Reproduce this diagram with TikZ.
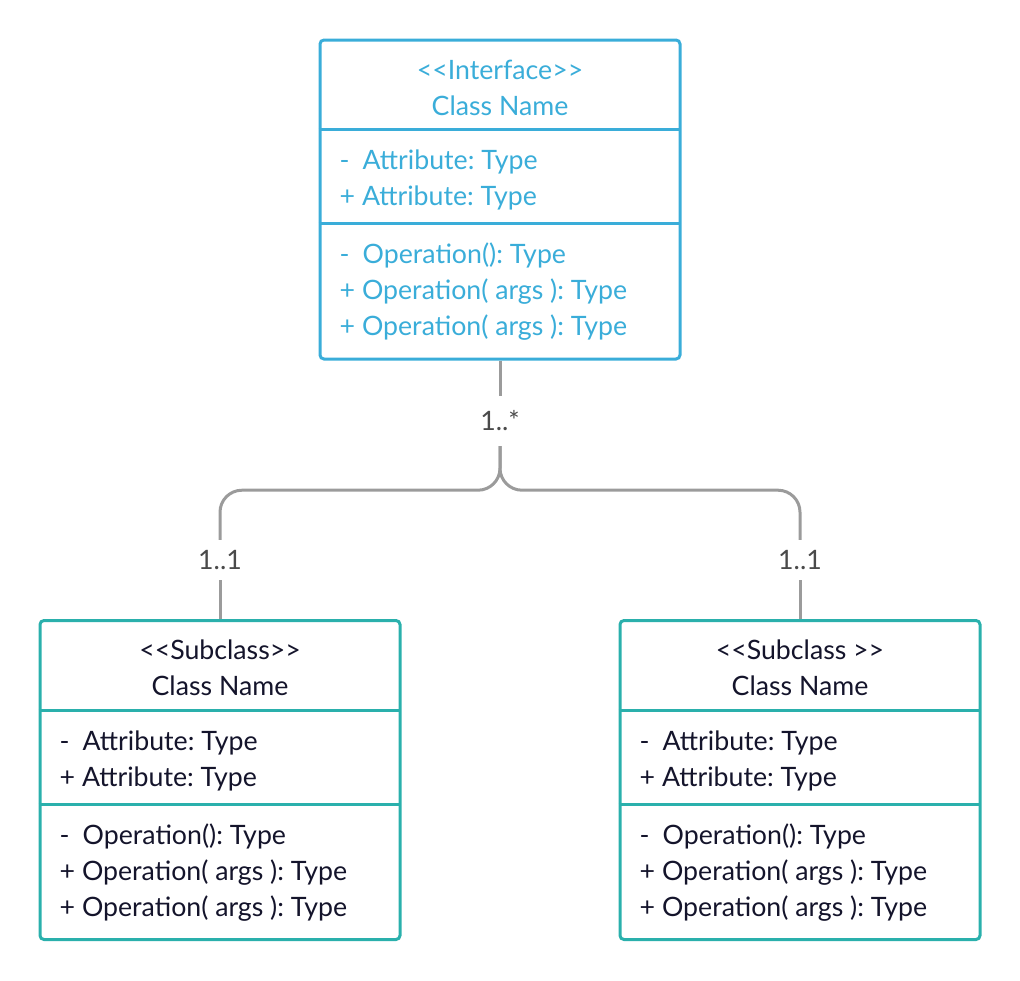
\documentclass[tikz,border=0pt]{standalone}
\usepackage{fontspec}
\setmainfont{Lato}[Ligatures=TeXOff]
\usetikzlibrary{positioning}
\definecolor{ifblue}{HTML}{3AADD9}
\definecolor{subteal}{HTML}{2AB0AC}
\definecolor{linkgray}{HTML}{9B9B9B}
\definecolor{ink}{HTML}{14142B}
\definecolor{multgray}{HTML}{4A4A4A}
\tikzset{
  classbox/.style={draw, line width=3pt, rounded corners=4pt, minimum width=360pt, minimum height=319pt, inner sep=0pt},
  header/.style={align=center, inner sep=0pt, font=\fontsize{26.7}{36}\selectfont},
  members/.style={align=left, anchor=west, inner sep=0pt, font=\fontsize{26.7}{36}\selectfont},
  mult/.style={text=multgray, font=\fontsize{26.7}{36}\selectfont, minimum height=50pt, inner sep=0pt},
  link/.style={draw=linkgray, line width=3pt, rounded corners=22pt},
}
\newcommand{\priv}{\makebox[23pt][l]{-}}
\frenchspacing
\begin{document}
\begin{tikzpicture}[x=1pt,y=-1pt]
\useasboundingbox (0,0) rectangle (1020,980);
% class boxes
\foreach \name/\cx/\cy/\col/\txt/\stereo in {iface/500/199.5/ifblue/ifblue/{<<Interface>>},
    subl/220/780/subteal/ink/{<<Subclass>>}, subr/800/780/subteal/ink/{<<Subclass >>}}{
	\node[classbox, draw=\col] (\name) at (\cx,\cy) {};
	\draw[line width=3pt, \col] (\name.north west) ++(0,91) -- ++(360,0);
	\draw[line width=3pt, \col] (\name.north west) ++(0,185) -- ++(360,0);
	\node[header, text=\txt] at ([yshift=-49pt]\name.north) {\stereo\\Class Name};
	\node[members, text=\txt] at ([xshift=21pt, yshift=-141.5pt]\name.north west)
		{\priv Attribute: Type\\+ Attribute: Type};
	\node[members, text=\txt] at ([xshift=21pt, yshift=-253.5pt]\name.north west)
		{\priv Operation(): Type\\+ Operation( args ): Type\\+ Operation( args ): Type};
	}
% multiplicities
\node[mult] (many) at (500,421) {1..*};
\node[mult, minimum height=40pt] (onel) at (220,560) {1..1};
\node[mult, minimum height=40pt] (oner) at (800,560) {1..1};
% links
\draw[link] (iface.south) -- (many.north);
\draw[link] (many.south) -- ++(0,44) -| (onel.north);
\draw[link] (many.south) -- ++(0,44) -| (oner.north);
\draw[link] (onel.south) -- (subl.north);
\draw[link] (oner.south) -- (subr.north);
\end{tikzpicture}
\end{document}
